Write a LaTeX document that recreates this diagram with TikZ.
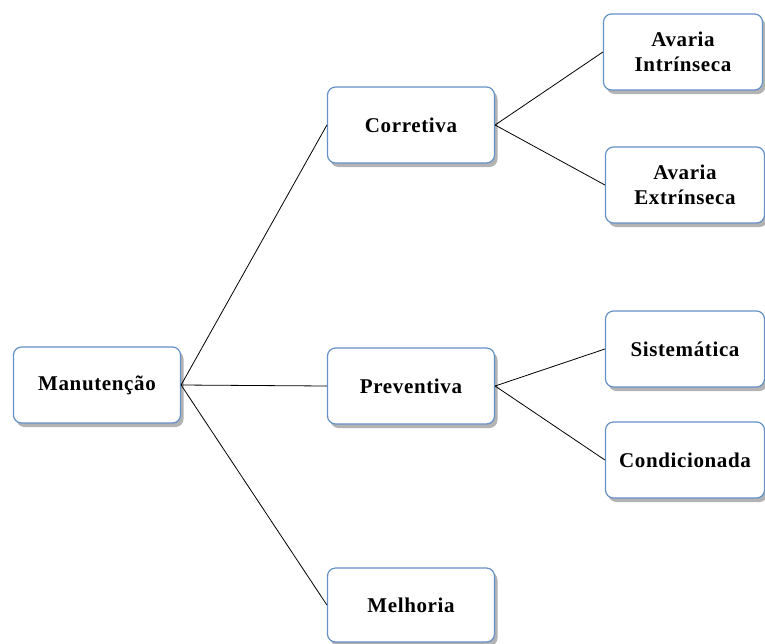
\documentclass[tikz,border=0pt]{standalone}
\usepackage{fontspec}
\setmainfont{Liberation Serif}
\newfontfamily\boxfont[LetterSpace=3]{Liberation Serif}
\usetikzlibrary{shadows}
\definecolor{boxblue}{RGB}{100,145,200}

\begin{document}
\begin{tikzpicture}[
        x=1pt, y=-1pt,
        box/.style={rectangle, draw=boxblue, line width=1.2pt, rounded corners=8pt, fill=white, minimum width=167pt, minimum height=76pt, align=center, font=\boxfont\fontsize{21}{25}\selectfont\bfseries, drop shadow={shadow xshift=3pt, shadow yshift=-4pt, opacity=0.6}},
        leaf/.style={box, minimum width=159pt}, % right column is a bit narrower
        link/.style={draw, line width=0.8pt}
    ]
    \useasboundingbox (0,0) rectangle (765,643);

    % Root
    \node[box] (manutencao) at (97,385) {Manutenção};

    % Middle column
    \node[box] (corretiva) at (411,125) {Corretiva};
    \node[box] (preventiva) at (411,386) {Preventiva};
    \node[box, minimum height=74pt] (melhoria) at (411,605) {Melhoria};

    % Right column
    \node[leaf] (intrinseca) at (683,52) {Avaria\\ Intrínseca};
    \node[leaf] (extrinseca) at (685,185) {Avaria\\ Extrínseca};
    \node[leaf] (sistematica) at (685,349) {Sistemática};
    \node[leaf] (condicionada) at (685,460) {Condicionada};

    % Connections
    \draw[link] (manutencao.east) -- (corretiva.west);
    \draw[link] (manutencao.east) -- (preventiva.west);
    \draw[link] (manutencao.east) -- (melhoria.west);
    \draw[link] (corretiva.east) -- (intrinseca.west);
    \draw[link] (corretiva.east) -- (extrinseca.west);
    \draw[link] (preventiva.east) -- (sistematica.west);
    \draw[link] (preventiva.east) -- (condicionada.west);
\end{tikzpicture}
\end{document}
